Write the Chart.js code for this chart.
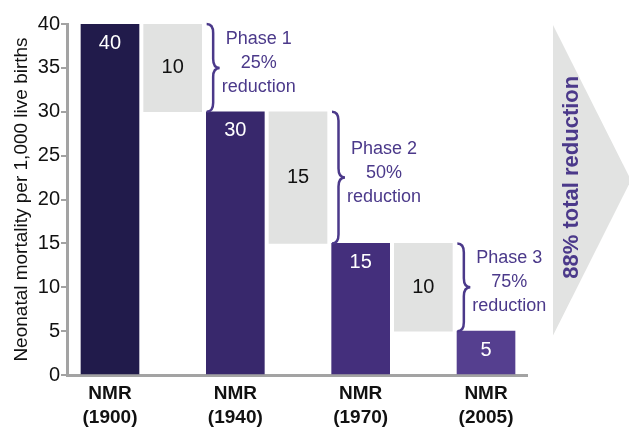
<!DOCTYPE html>
<html>
<head>
<meta charset="utf-8">
<script src="https://cdn.jsdelivr.net/npm/chart.js@4.4.1/dist/chart.umd.min.js"></script>
<style>
  html, body { margin: 0; padding: 0; background: #fff; }
  #wrap { width: 629px; height: 428px; position: relative; }
</style>
</head>
<body>
<div id="wrap"><canvas id="nmr-chart"></canvas></div>
<script>
// years shown under the bars
const years = ['1900', '1940', '1970', '2005'];
// neonatal mortality per 1,000 live births
const nmrValues = [40, 30, 15, 5];
// drop between one year and the next (grey bars)
const dropValues = [10, 15, 10];
const phaseNames = ['Phase 1', 'Phase 2', 'Phase 3'];
const phasePct = ['25%', '50%', '75%'];
const totalLabel = '88% total reduction';
const yTicks = [0, 5, 10, 15, 20, 25, 30, 35, 40];

const barColors = ['#211b4b', '#38286c', '#442f7c', '#553f8f'];
const dropColor = '#e1e2e1';
const purple = '#4b398a';
const axisGrey = '#a3a3a3';
const FONT = '"Liberation Sans", Arial, Helvetica, sans-serif';

// waterfall: a year bar, then the floating drop bar after it
let points = [], colors = [], kinds = [], texts = [];
nmrValues.forEach((v, i) => {
  points.push({x: i * 2, y: [0, v]});
  colors.push(barColors[i]);
  kinds.push('year');
  texts.push(String(v));
  if (i < dropValues.length) {
    points.push({x: i * 2 + 1, y: [v - dropValues[i], v]});
    colors.push(dropColor);
    kinds.push('drop');
    texts.push(String(dropValues[i]));
  }
});

// brace + phase text, bar values, big arrow on the right
const annotate = {
  id: 'annotate',
  beforeDatasetsDraw(chart) {
    const ctx = chart.ctx;
    const area = chart.chartArea;
    const ys = chart.scales.y;
    const left = area.right + 26;
    const top = area.top + 1;
    const bottom = ys.getPixelForValue(4.5);
    const tipX = chart.width + 2;
    const midY = (top + bottom) / 2;
    ctx.save();
    ctx.fillStyle = '#e2e3e2';
    ctx.beginPath();
    ctx.moveTo(left, top);
    ctx.lineTo(tipX, midY);
    ctx.lineTo(left, bottom);
    ctx.closePath();
    ctx.fill();
    ctx.translate(left + 19, midY - 3);
    ctx.rotate(-Math.PI / 2);
    ctx.fillStyle = purple;
    ctx.font = 'bold 22px ' + FONT;
    ctx.textAlign = 'center';
    ctx.textBaseline = 'middle';
    ctx.fillText(totalLabel, 0, 0);
    ctx.restore();
  },
  afterDatasetsDraw(chart) {
    const ctx = chart.ctx;
    const bars = chart.getDatasetMeta(0).data;
    ctx.save();
    ctx.textAlign = 'center';
    ctx.textBaseline = 'middle';
    let phase = 0;
    bars.forEach((b, i) => {
      if (kinds[i] === 'year') {
        ctx.fillStyle = '#ffffff';
        ctx.font = '20px ' + FONT;
        ctx.fillText(texts[i], b.x, b.y + 19);
        return;
      }
      ctx.fillStyle = '#111111';
      ctx.font = '20px ' + FONT;
      ctx.fillText(texts[i], b.x, (b.y + b.base) / 2);

      // curly brace to the right of the grey bar
      const x0 = b.x + b.width / 2 + 5;
      const w = 13, r = 9;
      const t = b.y, bt = b.base, m = (t + bt) / 2;
      const xm = x0 + w / 2;
      ctx.strokeStyle = purple;
      ctx.lineWidth = 2.5;
      ctx.beginPath();
      ctx.moveTo(x0, t);
      ctx.quadraticCurveTo(xm, t, xm, t + r);
      ctx.lineTo(xm, m - r);
      ctx.quadraticCurveTo(xm, m, x0 + w, m);
      ctx.quadraticCurveTo(xm, m, xm, m + r);
      ctx.lineTo(xm, bt - r);
      ctx.quadraticCurveTo(xm, bt, x0, bt);
      ctx.stroke();

      const cx = x0 + w + 39, cy = m - 5;
      ctx.fillStyle = purple;
      ctx.font = '18px ' + FONT;
      ctx.fillText(phaseNames[phase], cx, cy - 24);
      ctx.fillText(phasePct[phase], cx, cy);
      ctx.fillText('reduction', cx, cy + 24);
      phase++;
    });
    ctx.restore();
  }
};

new Chart(document.getElementById('nmr-chart'), {
  type: 'bar',
  data: {
    datasets: [{
      data: points,
      backgroundColor: colors,
      borderWidth: 0,
      barThickness: 58
    }]
  },
  options: {
    responsive: true,
    maintainAspectRatio: false,
    animation: false,
    layout: { padding: { top: 24, right: 102, left: 0, bottom: 0 } },
    plugins: { legend: { display: false }, tooltip: { enabled: false } },
    scales: {
      x: {
        type: 'linear',
        offset: false,
        min: -0.686,
        max: 6.654,
        afterFit: s => { s.height = 53; },
        afterBuildTicks: s => { s.ticks = years.map((y, i) => ({ value: i * 2 })); },
        grid: { display: false, drawTicks: false, offset: false },
        border: { display: true, color: axisGrey, width: 3 },
        ticks: {
          autoSkip: false,
          maxRotation: 0,
          padding: 6,
          color: '#111',
          font: { family: FONT, size: 19, weight: 'bold', lineHeight: 1.3 },
          callback: (v) => ['NMR', '(' + years[v / 2] + ')']
        }
      },
      y: {
        min: 0,
        max: 40,
        afterFit: s => { s.width = 67; },
        afterBuildTicks: s => { s.ticks = yTicks.map(v => ({ value: v })); },
        grid: { drawOnChartArea: false, drawTicks: true, tickLength: 6, color: axisGrey, lineWidth: 2 },
        border: { display: true, color: axisGrey, width: 3 },
        ticks: {
          padding: 1,
          color: '#111',
          font: { family: FONT, size: 20 }
        },
        title: {
          display: true,
          text: 'Neonatal mortality per 1,000 live births',
          color: '#111',
          padding: { top: 10, bottom: 0 },
          font: { family: FONT, size: 19 }
        }
      }
    }
  },
  plugins: [annotate]
});
</script>
</body>
</html>
